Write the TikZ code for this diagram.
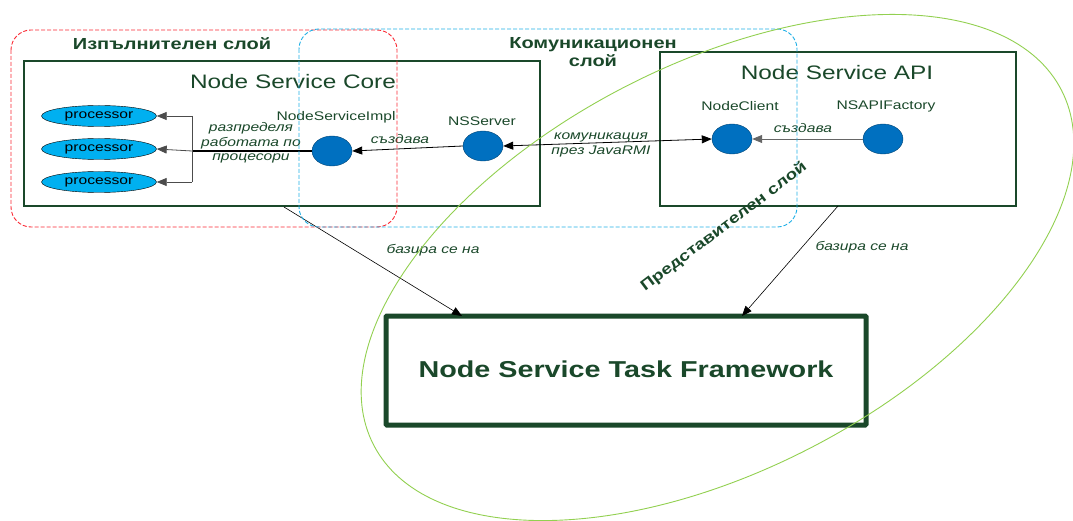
\documentclass[tikz,border=0pt]{standalone}
\usepackage{fontspec}
\setmainfont{Liberation Sans}[FakeStretch=1.25]
\usetikzlibrary{arrows.meta,shapes.geometric}
\definecolor{dkgreen}{RGB}{26,72,42}
\definecolor{layred}{RGB}{250,40,50}
\definecolor{layblue}{RGB}{30,175,230}
\definecolor{laygreen}{RGB}{146,208,80}
\definecolor{procfill}{RGB}{0,176,240}
\definecolor{objfill}{RGB}{0,112,192}
\begin{document}
\begin{tikzpicture}[x=1pt,y=-1pt,
  comp/.style={draw=dkgreen,line width=2.4pt},
  fw/.style={draw=dkgreen,line width=5pt,rounded corners=1pt},
  layer/.style={dashed,dash pattern=on 4pt off 2pt,line width=0.9pt,rounded corners=20pt},
  proc/.style={ellipse,draw=black,fill=procfill,minimum width=115pt,minimum height=21pt,inner sep=0pt,font=\fontsize{12.5}{14}\selectfont},
  obj/.style={ellipse,draw=objfill!60!black,fill=objfill,minimum width=40pt,minimum height=30pt,inner sep=0pt},
  objlbl/.style={font=\fontsize{12.5}{14}\selectfont,text=dkgreen},
  title/.style={font=\fontsize{19.5}{24}\selectfont,text=dkgreen},
  laylbl/.style={font=\fontsize{16}{18}\bfseries\selectfont,text=dkgreen,align=center},
  elbl/.style={font=\fontsize{12.5}{14.5}\itshape\selectfont,text=dkgreen,align=center},
  arr/.style={-{Triangle[length=10pt,width=8pt]},line width=0.8pt},
  thinarr/.style={-{Triangle[length=10pt,width=8pt]},line width=0.6pt}
]
\useasboundingbox (0,0) rectangle (1073,521);
% component boxes
\draw[comp] (24,61) rectangle (540,206);
\draw[comp] (660,52) rectangle (1016,206);
\node[title] (coret) at (293,82) {Node Service Core};
\node[title] (apit) at (837,73) {Node Service API};
% framework
\draw[fw] (386,316) rectangle (866,425);
\node[font=\fontsize{23}{26}\bfseries\selectfont,text=dkgreen] (fwt) at (626,369) {Node Service Task Framework};
\coordinate (fwl) at (462,316);
\coordinate (fwr) at (742,316);
\coordinate (corebot) at (284,207);
\coordinate (apibot) at (838,206);
% processors
\node[proc] (p1) at (99,116) {processor};
\node[proc] (p2) at (99,149) {processor};
\node[proc] (p3) at (99,182) {processor};
% objects
\node[obj] (nsi) at (332,151) {};
\node[obj] (nss) at (483,146) {};
\node[obj] (nc) at (732,139) {};
\node[obj] (nsf) at (883,139) {};
\node[objlbl] at (336,117) {NodeServiceImpl};
\node[objlbl] at (482,121) {NSServer};
\node[objlbl] at (740,106) {NodeClient};
\node[objlbl] at (886,106) {NSAPIFactory};
% distribution
\coordinate (jt) at (192,116);
\coordinate (jm) at (192,151);
\coordinate (jb) at (192,182);
\draw[line width=1.6pt] (nsi.west) -- (jm);
\draw[line width=0.8pt,black!70] (jt) -- (jb);
\draw[arr,black!70] (jt) -- (p1.east);
\draw[arr,black!70] (jm) -- (p2.east);
\draw[arr,black!70] (jb) -- (p3.east);
\node[elbl] at (251,143) {разпределя\\работата по\\процесори};
% creation arrows
\draw[arr] (nss.west) -- (nsi.east);
\node[elbl] at (400,139) {създава};
\draw[arr,black!60] (nsf.west) -- (nc.east);
\node[elbl] at (803,128) {създава};
% communication
\draw[{Triangle[length=10pt,width=8pt]}-{Triangle[length=10pt,width=8pt]},line width=0.8pt] (nss.east) -- (nc.west);
\node[elbl] at (601,145) {комуникация\\през JavaRMI};
% based-on arrows
\draw[thinarr] (corebot) -- (fwl);
\draw[thinarr] (apibot) -- (fwr);
\node[elbl] at (433,250) {базира се на};
\node[elbl] at (862,247) {базира се на};
% layers
\draw[layer,draw=layred] (11,30) rectangle (397,227);
\draw[layer,draw=layblue] (299,29) rectangle (797,227);
\draw[laygreen,line width=0.9pt,rotate around={27.3:(717.5,267.5)}] (717.5,267.5) ellipse [x radius=387pt,y radius=203pt];
\node[laylbl] (lx) at (172,44) {Изпълнителен слой};
\node[laylbl] (lk) at (593,52) {Комуникационен\\слой};
\node[laylbl,font=\fontsize{15}{18}\bfseries\selectfont,rotate=37] (lp) at (724,227) {Представителен слой};
\end{tikzpicture}
\end{document}
